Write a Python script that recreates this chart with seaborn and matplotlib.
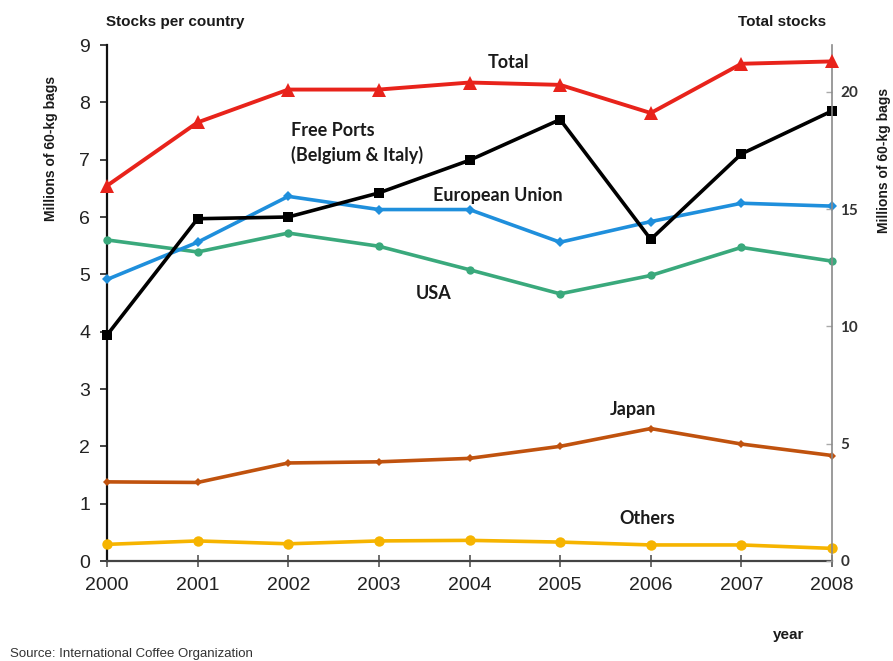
import matplotlib
matplotlib.use("Agg")
import matplotlib.pyplot as plt
import seaborn as sns
import pandas as pd

# Coffee stocks in importing countries, millions of 60-kg bags
years = [2000, 2001, 2002, 2003, 2004, 2005, 2006, 2007, 2008]
free_ports = [3.94, 5.97, 6.00, 6.42, 6.99, 7.70, 5.61, 7.10, 7.85]
european_union = [4.91, 5.56, 6.36, 6.13, 6.13, 5.56, 5.92, 6.24, 6.19]
usa = [5.60, 5.39, 5.72, 5.49, 5.08, 4.66, 4.98, 5.47, 5.23]
japan = [1.38, 1.37, 1.71, 1.73, 1.79, 2.00, 2.31, 2.04, 1.84]
others = [0.29, 0.35, 0.30, 0.35, 0.36, 0.33, 0.28, 0.28, 0.22]
total = [16.0, 18.7, 20.1, 20.1, 20.4, 20.3, 19.1, 21.2, 21.3]

left_ticks = list(range(0, 10))
right_ticks = [0, 5, 10, 15, 20]

sns.set_theme(style="white")
plt.rcParams["font.family"] = ["Liberation Sans", "DejaVu Sans"]

W, H = 893, 661
fig = plt.figure(figsize=(W / 100, H / 100), dpi=100)
fig.patch.set_facecolor("white")


def fx(px):
    return px / W


def fy(py):
    return 1 - py / H


ax = fig.add_axes([fx(107), fy(561), fx(832) - fx(107), fy(45) - fy(561)])
ax2 = ax.twinx()

countries = pd.DataFrame({
    "year": years,
    "Free Ports": free_ports,
    "European Union": european_union,
    "USA": usa,
    "Japan": japan,
    "Others": others,
})
totals = pd.DataFrame({"year": years, "Total": total})

styles = {
    "USA": dict(color="#3aa97c", marker="o", markersize=6),
    "European Union": dict(color="#1f8fdc", marker="D", markersize=5),
    "Japan": dict(color="#c0520e", marker="D", markersize=4.5),
    "Others": dict(color="#f6b400", marker="o", markersize=7.5),
    "Free Ports": dict(color="#000000", marker="s", markersize=7),
}
for name, st in styles.items():
    sns.lineplot(data=countries, x="year", y=name, ax=ax, linewidth=2.6,
                 markeredgewidth=0, legend=False, clip_on=False, zorder=3,
                 **st)

sns.lineplot(data=totals, x="year", y="Total", ax=ax2, color="#e8231b",
             linewidth=2.8, marker="^", markersize=10, markeredgewidth=0,
             legend=False, clip_on=False, zorder=3)

# Left axis
ax.set_xlim(years[0], years[-1])
ax.set_ylim(0, 9)
ax.set_yticks(left_ticks)
ax.set_xticks(years)
ax.set_xlabel("")
ax.set_ylabel("")
for s in ["top", "right"]:
    ax.spines[s].set_visible(False)
ax.spines["left"].set_color("#111111")
ax.spines["left"].set_linewidth(1.6)
ax.spines["bottom"].set_color("#444444")
ax.spines["bottom"].set_linewidth(1.6)
ax.tick_params(axis="y", direction="out", length=5, width=1.2, color="#222222",
               pad=7, labelsize=14, labelcolor="#222222", left=True)
ax.tick_params(axis="x", direction="inout", length=9, width=1.2, color="#555555",
               pad=7, labelsize=14, labelcolor="#222222", bottom=True)

# Right axis for the total
ax2.set_ylim(0, 22)
ax2.set_yticks(right_ticks)
ax2.set_ylabel("")
for s in ["top", "left", "bottom"]:
    ax2.spines[s].set_visible(False)
ax2.spines["right"].set_color("#8a8a8a")
ax2.spines["right"].set_linewidth(1.2)
ax2.tick_params(axis="y", direction="in", length=4, width=1, color="#aaaaaa",
                pad=6, labelsize=11, labelcolor="#333333", right=True)
for lab in ax2.get_yticklabels():
    lab.set_fontfamily(["Lato", "DejaVu Sans"])
    lab.set_fontweight("bold")

# Series labels
lbl = dict(fontsize=13, fontweight="bold", color="#1a1a1a",
           family=["Lato", "DejaVu Sans"])
ax.text(2004.43, 8.70, "Total", ha="center", va="center", **lbl)
ax.text(2002.03, 7.50, "Free Ports", ha="left", va="center", **lbl)
ax.text(2002.03, 7.08, "(Belgium & Italy)", ha="left", va="center", **lbl)
ax.text(2004.31, 6.37, "European Union", ha="center", va="center", **lbl)
ax.text(2003.60, 4.67, "USA", ha="center", va="center", **lbl)
ax.text(2005.80, 2.65, "Japan", ha="center", va="center", **lbl)
ax.text(2005.96, 0.75, "Others", ha="center", va="center", **lbl)

# Axis titles and notes
fig.text(fx(106), fy(22), "Stocks per country", ha="left", va="center",
         fontsize=11, fontweight="bold", color="#1a1a1a")
fig.text(fx(826), fy(22), "Total stocks", ha="right", va="center",
         fontsize=11, fontweight="bold", color="#1a1a1a")
fig.text(fx(51), fy(148), "Millions of 60-kg bags", ha="center", va="center",
         rotation=90, fontsize=10, fontweight="bold", color="#1a1a1a")
fig.text(fx(884), fy(160), "Millions of 60-kg bags", ha="center", va="center",
         rotation=90, fontsize=10, fontweight="bold", color="#1a1a1a")
fig.text(fx(789), fy(635), "year", ha="center", va="center",
         fontsize=11, fontweight="bold", color="#1a1a1a")
fig.text(fx(10), fy(654), "Source: International Coffee Organization",
         ha="left", va="center", fontsize=9.5, color="#333333")

fig.savefig("out.png", dpi=100, facecolor="white")
